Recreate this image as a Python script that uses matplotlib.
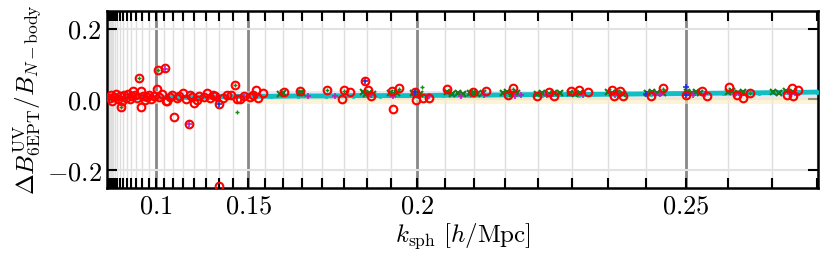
import numpy as np
import matplotlib
matplotlib.use("Agg")
import matplotlib.pyplot as plt

plt.rcParams['mathtext.fontset'] = 'cm'
plt.rcParams['font.family'] = 'serif'
plt.rcParams['font.serif'] = ['DejaVu Serif']

# number of triangle configurations per k_max bin (bins of k_F), n = 1..43
tri_per_bin = [2, 4, 6, 9, 12, 16, 20, 25, 30, 36, 42, 49, 56, 64, 72, 81,
               90, 100, 110, 121, 132, 144, 156, 169, 182, 196, 210, 225,
               240, 256, 272, 289, 306, 324, 342, 361, 380, 400, 420, 441,
               462, 484, 506]
major_bins = [16, 24, 32, 40]
major_labels = [r'$0.1$', r'$0.15$', r'$0.2$', r'$0.25$']

# cyan series (main ratio, triangle index vs value)
cyan_idx = [0, 100, 250, 400, 524, 700, 900, 1100, 1300, 1546, 1800, 2100, 2400,
            2700, 3000, 3416, 3700, 4000, 4400, 4800, 5200, 5600, 6000, 6390,
            6800, 7200, 7600, 7842]
cyan_val = [0.003, 0.004, 0.004, 0.005, 0.005, 0.006, 0.006, 0.007, 0.008, 0.009,
            0.009, 0.010, 0.010, 0.011, 0.011, 0.011, 0.012, 0.012, 0.013, 0.014,
            0.014, 0.015, 0.016, 0.017, 0.018, 0.019, 0.020, 0.021]

# red open circles (outlier configurations)
red_idx = [339, 542, 620, 1398, 1627, 726, 885, 1224, 357, 133, 947, 1221, 361, 272,
           538, 1944, 2117, 2413, 1711, 819, 634, 2604, 2671, 2585, 2840, 2870, 2900,
           3136, 3216, 3150, 3390, 3398, 3475, 3545, 3748, 4029, 4176, 4478, 4423,
           4737, 4877, 4929, 5113, 5209, 5308, 5567, 5659, 5696, 5593, 6132, 6002,
           6390, 6563, 6619, 6866, 6951, 7024, 7098, 7560, 7633, 7504, 7577,
           10, 25, 40, 60, 80, 100, 120, 150, 170, 190, 210, 240, 260, 290, 310,
           380, 400, 420, 450, 470, 500, 560, 590, 650, 680, 700, 750, 780, 850,
           900, 920, 980, 1000, 1050, 1085, 1120, 1150, 1180, 1260, 1306, 1350,
           1417, 1450, 1500, 1560, 1600, 1650]
red_val = [0.061, 0.083, 0.088, 0.041, 0.028, -0.049, -0.070, -0.245, -0.020, -0.020,
           -0.010, -0.012, 0.023, 0.023, 0.030, 0.021, 0.023, 0.028, 0.018, 0.018,
           -0.004, 0.026, 0.020, 0.002, 0.051, 0.028, 0.011, 0.025, 0.032, -0.027,
           0.021, -0.001, 0.004, 0.004, 0.030, 0.020, 0.025, 0.032, 0.013, 0.009,
           0.020, 0.009, 0.023, 0.028, 0.020, 0.026, 0.023, 0.011, 0.011, 0.032,
           0.009, 0.013, 0.023, 0.011, 0.035, 0.013, 0.004, 0.018, 0.032, 0.026,
           0.013, 0.009,
           0.004, 0.012, -0.003, 0.008, 0.015, 0.002, 0.010, -0.004, 0.012, 0.005,
           0.016, 0.000, 0.009, 0.014, 0.003, 0.011, -0.002, 0.007, 0.013, 0.001,
           0.010, 0.006, 0.015, -0.003, 0.008, 0.012, 0.004, 0.010, 0.002, 0.014,
           0.006, -0.002, 0.011, 0.007, 0.018, 0.003, 0.012, 0.009, 0.005, 0.013,
           0.013, 0.002, 0.001, 0.010, 0.006, 0.012, 0.004]

# dark green crosses
dgreen_idx = [1895, 1930, 2117, 2140, 2817, 2850, 2880, 2928, 3114, 3150, 3192,
              3370, 3400, 3448, 3748, 3800, 3860, 3920, 4002, 4029, 4080, 4140,
              4367, 4410, 4460, 4522, 4740, 4800, 4870, 4930, 4995, 5106, 5160,
              5217, 5526, 5570, 5620, 5692, 5958, 6010, 6070, 6135, 6401, 6450,
              6500, 6545, 6855, 6900, 6960, 7021, 7353, 7420, 7500, 7575]
dgreen_val = [0.016, 0.018, 0.017, 0.019, 0.020, 0.016, 0.019, 0.015, 0.018, 0.016,
              0.019, 0.017, 0.014, 0.016, 0.020, 0.016, 0.018, 0.015, 0.017, 0.019,
              0.016, 0.018, 0.017, 0.020, 0.016, 0.018, 0.016, 0.019, 0.015, 0.018,
              0.017, 0.018, 0.016, 0.019, 0.020, 0.017, 0.019, 0.016, 0.018, 0.021,
              0.017, 0.019, 0.020, 0.017, 0.021, 0.018, 0.020, 0.023, 0.018, 0.021,
              0.022, 0.019, 0.023, 0.020]

# small green plus markers
green_idx = [133, 339, 542, 1417, 3468, 3216, 2604, 4478, 5659, 6132, 7098, 1398, 2413]
green_val = [-0.020, 0.060, 0.082, -0.036, 0.035, 0.031, 0.025, 0.031, 0.022, 0.031,
             0.018, 0.040, 0.027]

# magenta plus markers
mag_idx = [885, 620, 2900, 3150, 3545, 3900, 4150, 4500, 4560, 4850, 4900, 5250,
           5600, 5650, 6050, 6100, 6470, 6600, 6930, 7000, 7550, 7620, 1200, 1500,
           2200, 2500]
mag_val = [-0.068, 0.086, 0.012, 0.011, 0.010, 0.011, 0.012, 0.011, 0.013, 0.012,
           0.010, 0.013, 0.012, 0.014, 0.013, 0.015, 0.014, 0.016, 0.015, 0.013,
           0.016, 0.014, 0.007, 0.008, 0.009, 0.010]

# blue plus markers
blue_idx = [2840, 6390, 5943, 6390, 0, 1220, 3390]
blue_val = [0.051, 0.013, 0.015, 0.035, 0.002, -0.012, 0.020]

edges = np.cumsum(tri_per_bin)
major_pos = [edges[b - 1] for b in major_bins]

fig = plt.figure(figsize=(8.31, 2.61), dpi=100)
ax = fig.add_axes([0.1288, 0.2797, 0.8556, 0.6782])

ax.axhspan(-0.012, 0.004, color='#faecc0', alpha=0.6, lw=0, zorder=1)
ax.axhspan(0.004, 0.025, color='#d8d8f4', alpha=0.6, lw=0, zorder=1)

ax.plot(cyan_idx, cyan_val, '-', color='#10bfc4', lw=3.5, zorder=4)
ax.plot(cyan_idx, cyan_val, '.', color='#10bfc4', ms=5, zorder=4)
ax.plot(dgreen_idx, dgreen_val, 'x', color='#1a7a1a', ms=4, mew=1.5, zorder=5, ls='none')
ax.plot(mag_idx, mag_val, '+', color='#c020c0', ms=4, mew=1.2, zorder=5, ls='none')
ax.plot(green_idx, green_val, '+', color='#1a8a1a', ms=3.5, mew=1.0, zorder=6, ls='none')
ax.plot(blue_idx, blue_val, '+', color='#2030e0', ms=4, mew=1.2, zorder=6, ls='none')
ax.plot(red_idx, red_val, 'o', mfc='none', mec='red', ms=5.5, mew=1.5, zorder=7, ls='none')

ax.set_xlim(-19, edges[-1] + 8)
ax.set_ylim(-0.25, 0.25)

ax.set_xticks(major_pos)
ax.set_xticklabels(major_labels)
ax.set_xticks(edges, minor=True)
ax.set_yticks([-0.2, 0.0, 0.2])
ax.set_yticklabels([r'$-0.2$', r'$0.0$', r'$0.2$'])

ax.grid(which='major', axis='x', color='#888888', lw=2, zorder=2)
ax.grid(which='minor', axis='x', color='#dedede', lw=1, zorder=2)
ax.grid(which='major', axis='y', color='#e2e2e2', lw=1.5, zorder=2)
ax.set_axisbelow(True)

ax.tick_params(axis='x', which='both', direction='in', top=True, bottom=True,
               length=7, width=1.5, labelsize=19, pad=4)
ax.tick_params(axis='y', which='both', direction='in', left=True, right=True,
               length=7, width=1.5, labelsize=19, pad=4)
for s in ax.spines.values():
    s.set_linewidth(1.8)

ax.set_xlabel(r'$k_{\rm sph}\ [h/{\rm Mpc}]$', fontsize=18, labelpad=2)
ax.set_ylabel(r'$\Delta B^{\rm UV}_{\rm 6EPT}/B_{N-{\rm body}}$', fontsize=18, labelpad=2)

fig.savefig('out.png', dpi=100)
